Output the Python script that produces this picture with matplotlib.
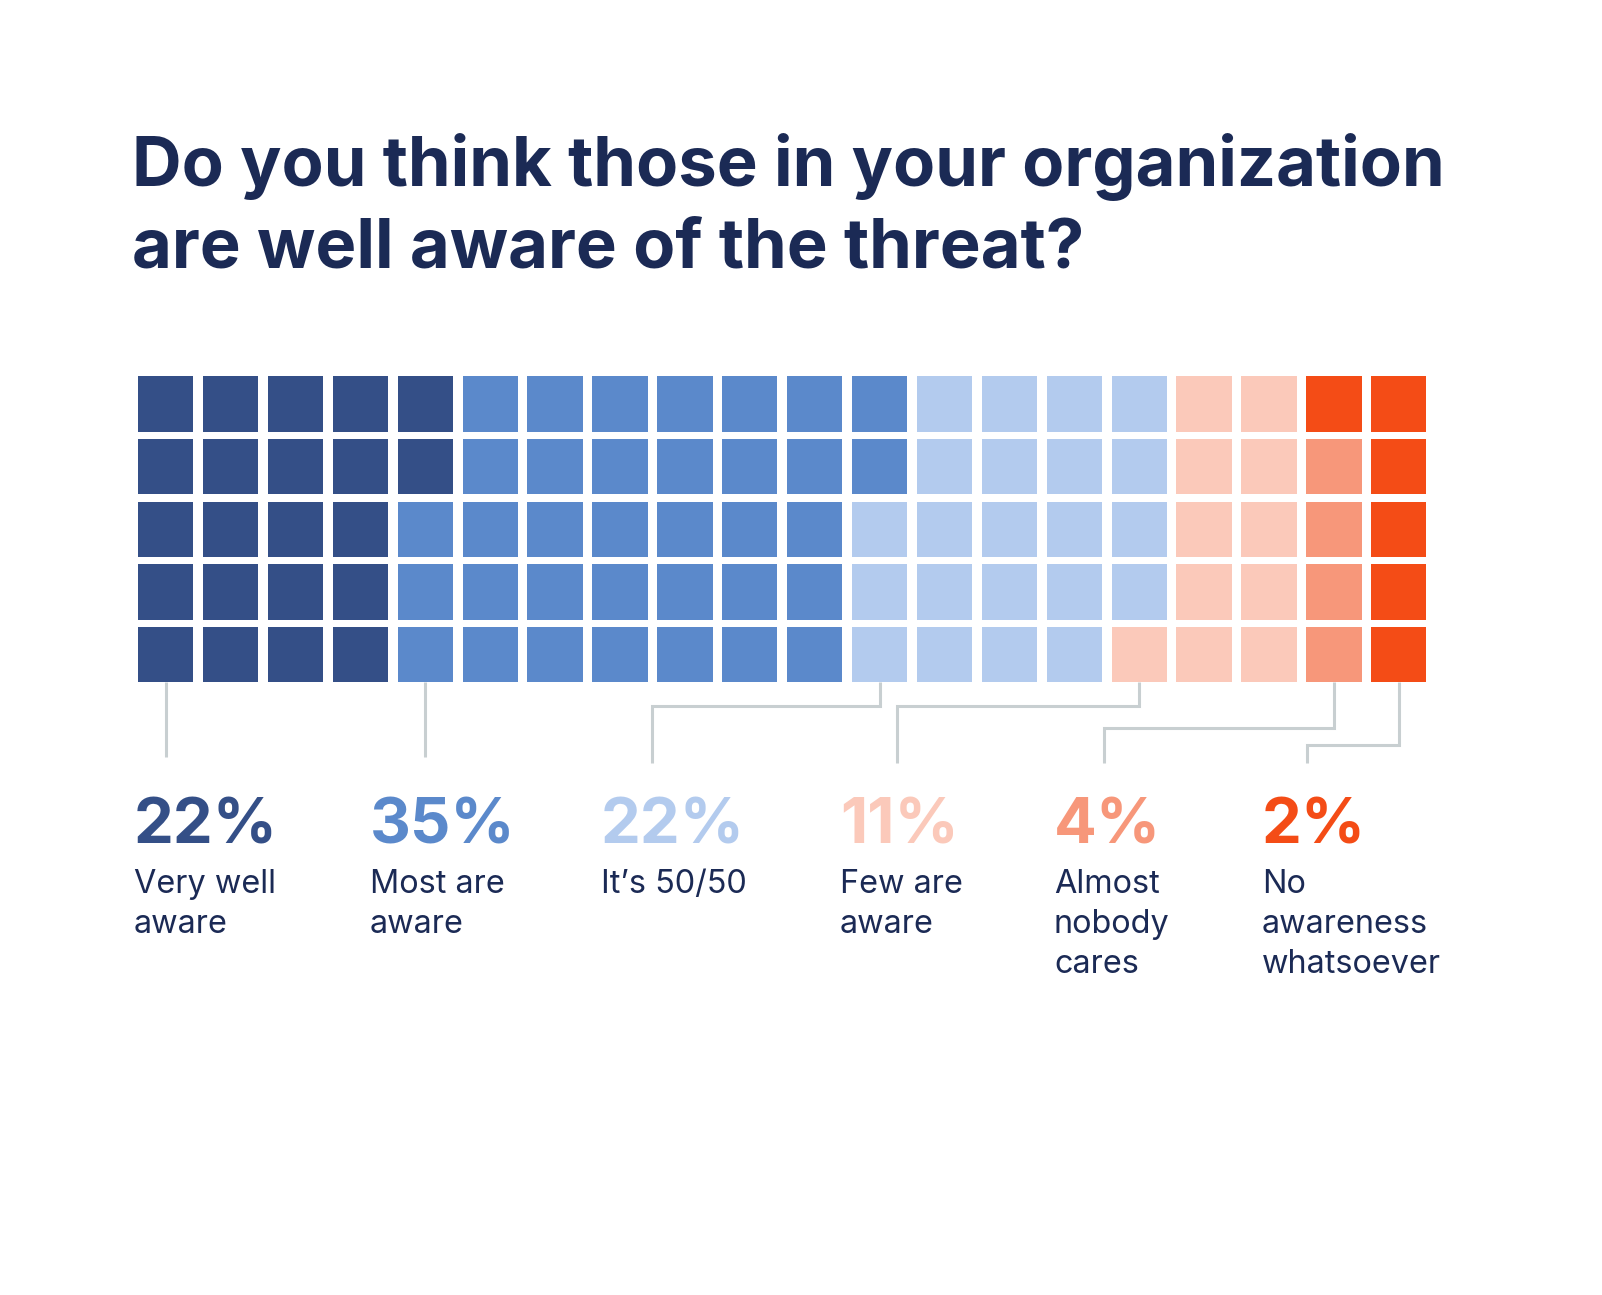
import matplotlib
matplotlib.use("Agg")
import matplotlib.pyplot as plt
from matplotlib.patches import Rectangle

# ---------------- data ----------------
categories = ["Very well\naware", "Most are\naware", "It’s 50/50",
              "Few are\naware", "Almost\nnobody\ncares", "No\nawareness\nwhatsoever"]
percentages = [22, 35, 22, 11, 4, 2]
colors = ["#344f87", "#5b89cb", "#b3cbee", "#fbc9ba", "#f7977a", "#f44c16"]
# waffle cells, rows top -> bottom, each char = category index
grid_rows = [
    "00000111111122223355",
    "00000111111122223345",
    "00001111111222223345",
    "00001111111222223345",
    "00001111111222233345",
]
anchor_cols = [0, 4, 11, 15, 18, 19]
title_lines = ["Do you think those in your organization",
               "are well aware of the threat?"]

# ---------------- layout (pixel space) ----------------
W, H = 1602, 1295
navy = "#1b2a55"
line_col = "#c8cfd1"
x0, y0 = 138, 376.3
cw, ch = 55.3, 55.3
px, py = 64.9, 62.7
label_x = [134, 370, 601, 840, 1054, 1262]
line_end_x = [None, None, 651.6, 897.3, 1104.3, 1306.5]
elbow_y = [None, None, 705.5, 705.5, 728.3, 745.0]
line_bottom = [757, 757, 763, 763, 763, 763]

fig = plt.figure(figsize=(W / 100, H / 100), dpi=100)
ax = fig.add_axes([0, 0, 1, 1])
ax.set_xlim(0, W)
ax.set_ylim(H, 0)
ax.axis("off")

# waffle cells
for r, row in enumerate(grid_rows):
    for c, ch_idx in enumerate(row):
        k = int(ch_idx)
        ax.add_patch(Rectangle((x0 + c * px, y0 + r * py), cw, ch,
                               facecolor=colors[k], edgecolor="none"))

grid_bottom = y0 + (len(grid_rows) - 1) * py + ch

# leader lines
for i, col in enumerate(anchor_cols):
    cx = x0 + col * px + cw / 2
    if line_end_x[i] is None:
        xs = [cx, cx]
        ys = [grid_bottom, line_bottom[i]]
    else:
        xs = [cx, cx, line_end_x[i], line_end_x[i]]
        ys = [grid_bottom, elbow_y[i], elbow_y[i], line_bottom[i]]
    ax.plot(xs, ys, color=line_col, lw=2.2, solid_joinstyle="miter",
            solid_capstyle="butt", zorder=1)

fig.canvas.draw()


def fit(t, target):
    for _ in range(3):
        fig.canvas.draw()
        w = t.get_window_extent().width
        t.set_fontsize(t.get_fontsize() * target / w)


# title
t1 = ax.text(132, 186, title_lines[0], fontsize=50, fontweight="bold",
             family="Inter", color=navy, va="baseline", ha="left")
fit(t1, 1313)
fs_title = t1.get_fontsize()
ax.text(132, 267, title_lines[1], fontsize=fs_title, fontweight="bold",
        family="Inter", color=navy, va="baseline", ha="left")

# percentages and labels
p0 = ax.text(label_x[0], 843, f"{percentages[0]}%", fontsize=50,
             fontweight="bold", family="Inter", color=colors[0],
             va="baseline", ha="left")
fit(p0, 144)
fs_pct = p0.get_fontsize()
l0 = ax.text(label_x[0], 893, categories[0].split("\n")[0], fontsize=22,
             family="Inter", color=navy, va="baseline", ha="left")
fit(l0, 142)
fs_lab = l0.get_fontsize()
l0.remove()
for i in range(len(categories)):
    if i > 0:
        ax.text(label_x[i], 843, f"{percentages[i]}%", fontsize=fs_pct,
                fontweight="bold", family="Inter", color=colors[i],
                va="baseline", ha="left")
    for j, line in enumerate(categories[i].split("\n")):
        ax.text(label_x[i], 893 + 40 * j, line, fontsize=fs_lab,
                family="Inter", color=navy, va="baseline", ha="left")

fig.savefig("out.png", dpi=100, facecolor="white")
